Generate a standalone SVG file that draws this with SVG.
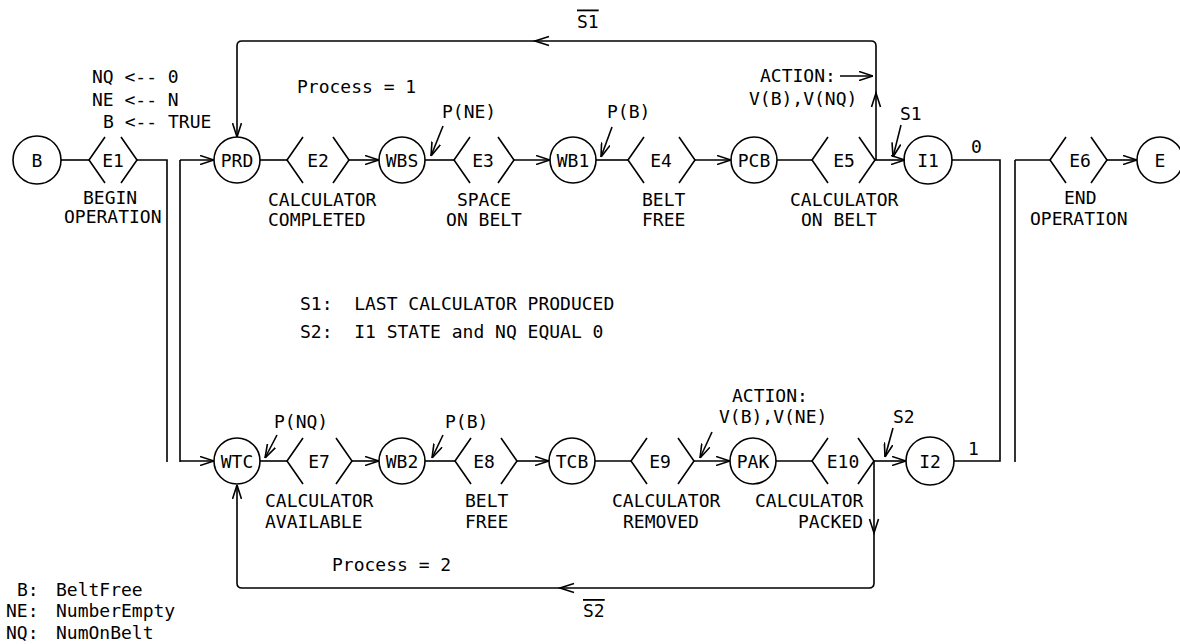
<svg xmlns="http://www.w3.org/2000/svg" width="1180" height="644" viewBox="0 0 1180 644">
<style>
.ln{stroke:#000;stroke-width:1.6;fill:none}
.nd circle{fill:none;stroke:#000;stroke-width:1.6}
.nd path{fill:none;stroke:#000;stroke-width:1.6}
text{font-family:"DejaVu Sans Mono","Liberation Mono",monospace;font-size:18px;fill:#000}
.c{text-anchor:middle}
.ov{text-decoration:overline}
</style>
<defs>
<marker id="arr" viewBox="0 0 14 10" refX="14" refY="5" markerWidth="14" markerHeight="10" markerUnits="userSpaceOnUse" orient="auto">
<path d="M0,0.5 L14,5 L0,9.5" fill="none" stroke="#000" stroke-width="1.6"/>
</marker>
</defs>
<rect width="1180" height="644" fill="#fff"/>

<g id="connectors" class="ln">
<line x1="61" y1="160" x2="89" y2="160"/>
<polyline points="137,160 167,160 167,462"/>
<line x1="180" y1="160" x2="180" y2="462"/>
<line x1="180" y1="160" x2="214" y2="160" marker-end="url(#arr)"/>
<line x1="180" y1="461" x2="214" y2="461" marker-end="url(#arr)"/>
<line x1="260" y1="160" x2="287" y2="160"/>
<line x1="349" y1="160" x2="379" y2="160" marker-end="url(#arr)"/>
<line x1="425" y1="160" x2="454" y2="160"/>
<line x1="514" y1="160" x2="550" y2="160" marker-end="url(#arr)"/>
<line x1="596" y1="160" x2="628" y2="160"/>
<line x1="695" y1="160" x2="731" y2="160" marker-end="url(#arr)"/>
<line x1="777" y1="160" x2="812" y2="160"/>
<line x1="875" y1="160" x2="905" y2="160" marker-end="url(#arr)"/>
<path d="M876,160 V46 Q876,41 871,41 H242 Q237,41 237,46 V137" marker-end="url(#arr)"/>
<path d="M871.5,107 L876,93 L880.5,107"/>
<path d="M549,36.5 L535,41 L549,45.5"/>
<polyline points="952,160 1000,160 1000,461 954,461"/>
<line x1="1015" y1="160" x2="1015" y2="462"/>
<line x1="1015" y1="160" x2="1050" y2="160"/>
<line x1="1107" y1="160" x2="1137" y2="160" marker-end="url(#arr)"/>
<line x1="260" y1="461" x2="287" y2="461"/>
<line x1="352" y1="461" x2="379" y2="461" marker-end="url(#arr)"/>
<line x1="425" y1="461" x2="455" y2="461"/>
<line x1="517" y1="461" x2="549" y2="461" marker-end="url(#arr)"/>
<line x1="595" y1="461" x2="631" y2="461"/>
<line x1="694" y1="461" x2="730" y2="461" marker-end="url(#arr)"/>
<line x1="776" y1="461" x2="812" y2="461"/>
<line x1="874" y1="461" x2="906" y2="461" marker-end="url(#arr)"/>
<path d="M874,461 V583 Q874,588 869,588 H242 Q237,588 237,583 V485" marker-end="url(#arr)"/>
<path d="M869.5,519 L874,533 L878.5,519"/>
<path d="M574,583.5 L560,588 L574,592.5"/>
<line x1="443" y1="126" x2="431" y2="156" marker-end="url(#arr)"/>
<line x1="612" y1="127" x2="601" y2="157" marker-end="url(#arr)"/>
<line x1="901" y1="125" x2="893" y2="157" marker-end="url(#arr)"/>
<line x1="840" y1="76" x2="873" y2="76" marker-end="url(#arr)"/>
<line x1="277" y1="435" x2="265" y2="458" marker-end="url(#arr)"/>
<line x1="443" y1="435" x2="432" y2="458" marker-end="url(#arr)"/>
<line x1="712" y1="432" x2="700" y2="458" marker-end="url(#arr)"/>
<line x1="893" y1="428" x2="885" y2="457" marker-end="url(#arr)"/>
</g>

<g id="node-B" class="nd"><circle cx="37" cy="160" r="24"/><text class="c" x="37" y="166.5">B</text></g>
<g id="node-E1" class="nd"><path d="M105,137 L89,160 L105,183 M121,137 L137,160 L121,183"/><text class="c" x="113" y="166.5">E1</text><text x="83" y="204">BEGIN</text><text x="64" y="223">OPERATION</text></g>
<g id="node-PRD" class="nd"><circle cx="237" cy="160" r="23"/><text class="c" x="237" y="166.5">PRD</text></g>
<g id="node-E2" class="nd"><path d="M303,137 L287,160 L303,183 M333,137 L349,160 L333,183"/><text class="c" x="318" y="166.5">E2</text><text x="268" y="206">CALCULATOR</text><text x="268" y="226">COMPLETED</text></g>
<g id="node-WBS" class="nd"><circle cx="402" cy="160" r="23"/><text class="c" x="402" y="166.5">WBS</text></g>
<g id="node-E3" class="nd"><path d="M470,137 L454,160 L470,183 M498,137 L514,160 L498,183"/><text class="c" x="483" y="166.5">E3</text><text class="c" x="484" y="206">SPACE</text><text class="c" x="484" y="226">ON BELT</text></g>
<g id="node-WB1" class="nd"><circle cx="573" cy="160" r="23"/><text class="c" x="573" y="166.5">WB1</text></g>
<g id="node-E4" class="nd"><path d="M644,137 L628,160 L644,183 M679,137 L695,160 L679,183"/><text class="c" x="661" y="166.5">E4</text><text x="642" y="206">BELT</text><text x="642" y="226">FREE</text></g>
<g id="node-PCB" class="nd"><circle cx="754" cy="160" r="23"/><text class="c" x="754" y="166.5">PCB</text></g>
<g id="node-E5" class="nd"><path d="M828,137 L812,160 L828,183 M859,137 L875,160 L859,183"/><text class="c" x="844" y="166.5">E5</text><text x="790" y="206">CALCULATOR</text><text x="801" y="226">ON BELT</text></g>
<g id="node-I1" class="nd"><circle cx="928" cy="160" r="24"/><text class="c" x="928" y="166.5">I1</text></g>
<g id="node-E6" class="nd"><path d="M1066,137 L1050,160 L1066,183 M1091,137 L1107,160 L1091,183"/><text class="c" x="1080" y="166.5">E6</text><text x="1064" y="204">END</text><text x="1030" y="225">OPERATION</text></g>
<g id="node-E" class="nd"><circle cx="1160" cy="160" r="23"/><text class="c" x="1160" y="166.5">E</text></g>

<g id="node-WTC" class="nd"><circle cx="237" cy="461" r="23"/><text class="c" x="237" y="467.5">WTC</text></g>
<g id="node-E7" class="nd"><path d="M303,438 L287,461 L303,484 M336,438 L352,461 L336,484"/><text class="c" x="319" y="467.5">E7</text><text x="265" y="507">CALCULATOR</text><text x="265" y="528">AVAILABLE</text></g>
<g id="node-WB2" class="nd"><circle cx="402" cy="461" r="23"/><text class="c" x="402" y="467.5">WB2</text></g>
<g id="node-E8" class="nd"><path d="M471,438 L455,461 L471,484 M501,438 L517,461 L501,484"/><text class="c" x="484" y="467.5">E8</text><text x="465" y="507">BELT</text><text x="465" y="528">FREE</text></g>
<g id="node-TCB" class="nd"><circle cx="572" cy="461" r="23"/><text class="c" x="572" y="467.5">TCB</text></g>
<g id="node-E9" class="nd"><path d="M647,438 L631,461 L647,484 M678,438 L694,461 L678,484"/><text class="c" x="660" y="467.5">E9</text><text x="612" y="507">CALCULATOR</text><text x="623" y="528">REMOVED</text></g>
<g id="node-PAK" class="nd"><circle cx="753" cy="461" r="23"/><text class="c" x="753" y="467.5">PAK</text></g>
<g id="node-E10" class="nd"><path d="M828,438 L812,461 L828,484 M858,438 L874,461 L858,484"/><text class="c" x="843" y="467.5">E10</text><text x="755" y="507">CALCULATOR</text><text x="798" y="528">PACKED</text></g>
<g id="node-I2" class="nd"><circle cx="930" cy="461" r="24"/><text class="c" x="930" y="467.5">I2</text></g>

<g id="labels">
<text x="92" y="83">NQ &lt;-- 0</text>
<text x="92" y="106">NE &lt;-- N</text>
<text x="103" y="128">B &lt;-- TRUE</text>
<text x="297" y="93">Process = 1</text>
<text class="ov" x="577" y="27.5">S1</text>
<text x="442" y="118">P(NE)</text>
<text x="607" y="118">P(B)</text>
<text x="760" y="82">ACTION:</text>
<text x="749" y="105">V(B),V(NQ)</text>
<text x="900" y="120">S1</text>
<text x="971" y="153">0</text>
<text x="968" y="455">1</text>
<text x="300" y="310" xml:space="preserve">S1:  LAST CALCULATOR PRODUCED</text>
<text x="300" y="338" xml:space="preserve">S2:  I1 STATE and NQ EQUAL 0</text>
<text x="274" y="428">P(NQ)</text>
<text x="445" y="428">P(B)</text>
<text x="732" y="402">ACTION:</text>
<text x="719" y="423">V(B),V(NE)</text>
<text x="893" y="423">S2</text>
<text x="332" y="571">Process = 2</text>
<text class="ov" x="583" y="617">S2</text>
<text x="17" y="596">B:</text>
<text x="56" y="596">BeltFree</text>
<text x="6" y="617">NE:</text>
<text x="56" y="617">NumberEmpty</text>
<text x="6" y="639">NQ:</text>
<text x="56" y="639">NumOnBelt</text>
</g>
</svg>
